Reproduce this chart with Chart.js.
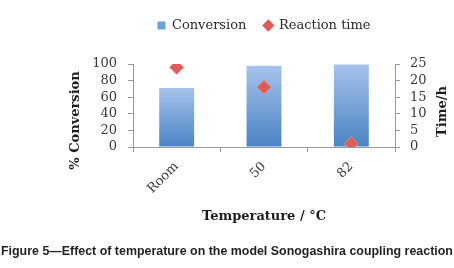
<!DOCTYPE html>
<html>
<head>
<meta charset="utf-8">
<title>Figure 5</title>
<script src="https://cdn.jsdelivr.net/npm/chart.js@4.4.1/dist/chart.umd.min.js"></script>
<style>
  html, body { margin: 0; padding: 0; background: #fff; }
  #wrap { position: relative; width: 454px; height: 268px; overflow: hidden; }
  #chart1 { position: absolute; left: 0; top: 0; }
  #caption { position: absolute; left: 1px; top: 244px; white-space: nowrap; font: bold 12.5px "Liberation Sans", Arial, sans-serif; color: #231f20; transform-origin: 0 0; }
</style>
</head>
<body>
<div id="wrap">
  <canvas id="chart1" width="454" height="268"></canvas>
  <div id="caption">Figure 5—Effect of temperature on the model Sonogashira coupling reaction</div>
</div>
<script>
// data
var temperatures = ['Room', '50', '82'];
var conversion = [71, 98, 99.5];      // %
var reactionTime = [24, 18, 1];       // h

var serif = '"DejaVu Serif", "Liberation Serif", serif';
var tickFont = {family: serif, size: 13};
var tickColor = '#3a3a3a';
var axisColor = '#9a9a9a';
var barSolid = '#6f9fd8';
var diamondFill = '#dd5e58';

// fit caption to the full width like in the original
var cap = document.getElementById('caption');
cap.style.transform = 'scaleX(' + (452 / cap.offsetWidth) + ')';

function barFill(c) {
  var chart = c.chart;
  if (!chart.chartArea || c.type !== 'data') return barSolid;
  var y = chart.scales.y;
  var top = y.getPixelForValue(c.raw), bottom = y.getPixelForValue(0);
  var g = chart.ctx.createLinearGradient(0, top, 0, bottom);
  g.addColorStop(0, '#a6c3ea');
  g.addColorStop(1, '#4a83c5');
  return g;
}

// leave the empty band between legend and plot
var legendGap = {
  id: 'legendGap',
  afterInit: function(chart) {
    var lg = chart.legend;
    var fit = lg.fit;
    lg.fit = function() { fit.call(this); this.height += 22; };
  }
};

// both y titles read bottom-to-top in the original
var yTitles = {
  id: 'yTitles',
  afterDraw: function(chart) {
    var ctx = chart.ctx, a = chart.chartArea;
    var mid = (a.top + a.bottom) / 2;
    function put(text, x, y) {
      ctx.save();
      ctx.translate(x, y);
      ctx.rotate(-Math.PI / 2);
      ctx.fillText(text, 0, 0);
      ctx.restore();
    }
    ctx.save();
    ctx.font = 'bold 13px ' + serif;
    ctx.fillStyle = '#1e1e1e';
    ctx.textAlign = 'center';
    ctx.textBaseline = 'middle';
    put('% Conversion', chart.scales.y.left + 76, mid + 15);
    put('Time/h', chart.scales.y1.right - 11, mid + 6);
    ctx.restore();
  }
};

var ctx = document.getElementById('chart1').getContext('2d');
new Chart(ctx, {
  data: {
    labels: temperatures,
    datasets: [
      {
        type: 'bar',
        label: 'Conversion',
        data: conversion,
        yAxisID: 'y',
        backgroundColor: barFill,
        borderWidth: 0,
        categoryPercentage: 1,
        barPercentage: 0.4,
        order: 2
      },
      {
        type: 'line',
        label: 'Reaction time',
        data: reactionTime,
        yAxisID: 'y1',
        showLine: false,
        pointStyle: 'rectRot',
        pointRadius: 7,
        pointHoverRadius: 7,
        pointBackgroundColor: diamondFill,
        pointBorderColor: '#e98a84',
        pointBorderWidth: 1,
        order: 1
      }
    ]
  },
  options: {
    responsive: false,
    animation: false,
    layout: {padding: {top: 1, left: 0, right: 0, bottom: 44}},
    plugins: {
      tooltip: {enabled: false},
      legend: {
        position: 'top',
        fullSize: false,
        labels: {
          usePointStyle: true,
          boxWidth: 8,
          boxHeight: 8,
          padding: 18,
          color: '#2a2a2a',
          font: {family: serif, size: 13},
          generateLabels: function(chart) {
            var items = Chart.defaults.plugins.legend.labels.generateLabels(chart);
            items.sort(function(a, b) { return a.datasetIndex - b.datasetIndex; });
            items.forEach(function(it) {
              var isBar = it.datasetIndex === 0;
              it.pointStyle = isBar ? 'rect' : 'rectRot';
              it.fillStyle = isBar ? barSolid : diamondFill;
              it.strokeStyle = it.fillStyle;
            });
            return items;
          }
        }
      }
    },
    scales: {
      x: {
        type: 'category',
        offset: true,
        grid: {offset: true, drawOnChartArea: false, drawTicks: true, tickLength: 5, color: axisColor},
        border: {display: true, color: axisColor},
        ticks: {minRotation: 45, maxRotation: 45, font: tickFont, color: tickColor, padding: 7},
        title: {display: true, text: 'Temperature / °C', color: '#1e1e1e',
                font: {family: serif, size: 13, weight: 'bold'}, padding: {top: 0, bottom: 0}},
        afterFit: function(s) { s.height = 77; }
      },
      y: {
        position: 'left',
        min: 0,
        max: 100,
        ticks: {stepSize: 20, autoSkip: false, font: tickFont, color: tickColor, padding: 11},
        grid: {drawOnChartArea: false, drawTicks: true, tickLength: 5, color: axisColor},
        border: {display: true, color: axisColor},
        afterFit: function(s) { s.width = 133; }
      },
      y1: {
        position: 'right',
        min: 0,
        max: 25,
        ticks: {stepSize: 5, autoSkip: false, font: tickFont, color: tickColor, padding: 10},
        grid: {drawOnChartArea: false, drawTicks: true, tickLength: 5, color: axisColor},
        border: {display: true, color: axisColor},
        afterFit: function(s) { s.width = 59; }
      }
    }
  },
  plugins: [legendGap, yTitles]
});
</script>
</body>
</html>
